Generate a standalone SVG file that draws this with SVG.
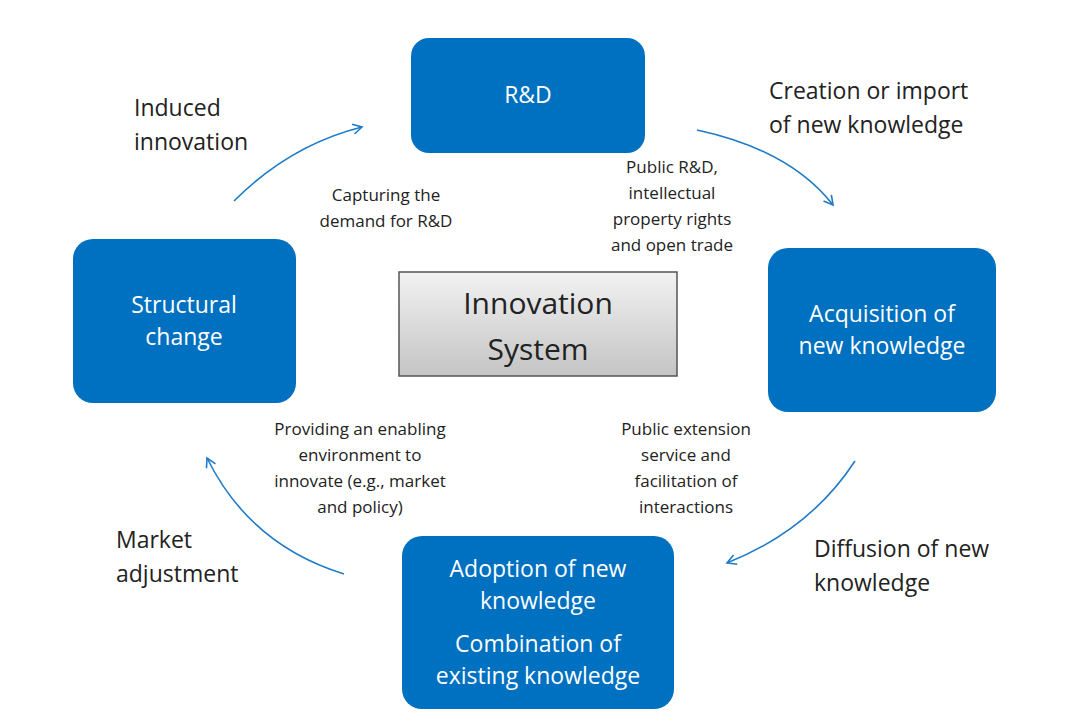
<svg xmlns="http://www.w3.org/2000/svg" width="1090" height="728" viewBox="0 0 1090 728">
<style>
.n{fill:#0070C0}
.nt{fill:#fff;font-family:"Open Sans","Liberation Sans",sans-serif;font-size:23px;text-anchor:middle}
.lb{fill:#222;font-family:"Open Sans","Liberation Sans",sans-serif;font-size:23px}
.sm{fill:#222;font-family:"Open Sans","Liberation Sans",sans-serif;font-size:17px;text-anchor:middle}
.c{fill:none;stroke:#1F7BC8;stroke-width:1.6;marker-end:url(#a)}
</style>
<defs>
<marker id="a" viewBox="0 0 12 12" refX="10" refY="6" markerWidth="12" markerHeight="12" markerUnits="userSpaceOnUse" orient="auto">
<path d="M1,1 L10,6 L1,11" fill="none" stroke="#1F7BC8" stroke-width="1.6"/>
</marker>
<linearGradient id="g" x1="0" y1="0" x2="0" y2="1">
<stop offset="0" stop-color="#f2f2f2"/><stop offset="1" stop-color="#c4c4c4"/>
</linearGradient>
</defs>
<rect width="1090" height="728" fill="#fff"/>
<g id="connectors">
<path class="c" d="M234,201 Q290,145 362,127"/>
<path class="c" d="M697,130 Q790,150 833,205"/>
<path class="c" d="M855,461 Q810,530 727,563"/>
<path class="c" d="M344,574 Q250,545 207,458"/>
</g>
<g id="rd"><rect class="n" x="411" y="38" width="234" height="115" rx="18"/><text class="nt" x="528" y="103">R&amp;D</text></g>
<g id="structural"><rect class="n" x="73" y="239" width="223" height="164" rx="20"/><text class="nt" x="184" y="313">Structural</text><text class="nt" x="184" y="345">change</text></g>
<g id="acquisition"><rect class="n" x="768" y="248" width="228" height="164" rx="20"/><text class="nt" x="882" y="322">Acquisition of</text><text class="nt" x="882" y="354">new knowledge</text></g>
<g id="adoption"><rect class="n" x="402" y="536" width="272" height="173" rx="20"/><text class="nt" x="538" y="577">Adoption of new</text><text class="nt" x="538" y="609">knowledge</text><text class="nt" x="538" y="652">Combination of</text><text class="nt" x="538" y="684">existing knowledge</text></g>
<g id="center"><rect x="399" y="272" width="278" height="104" fill="url(#g)" stroke="#555" stroke-width="1.5"/><text x="538" y="314" font-family="Open Sans,Liberation Sans,sans-serif" font-size="30" text-anchor="middle" fill="#222">Innovation</text><text x="538" y="360" font-family="Open Sans,Liberation Sans,sans-serif" font-size="30" text-anchor="middle" fill="#222">System</text></g>
<g id="labels">
<text class="lb" x="134" y="116">Induced</text><text class="lb" x="134" y="150">innovation</text>
<text class="lb" x="769" y="99">Creation or import</text><text class="lb" x="769" y="133">of new knowledge</text>
<text class="lb" x="814" y="557">Diffusion of new</text><text class="lb" x="814" y="591">knowledge</text>
<text class="lb" x="116" y="548">Market</text><text class="lb" x="116" y="582">adjustment</text>
<text class="sm" x="386" y="201">Capturing the</text><text class="sm" x="386" y="227">demand for R&amp;D</text>
<text class="sm" x="672" y="173">Public R&amp;D,</text><text class="sm" x="672" y="199">intellectual</text><text class="sm" x="672" y="225">property rights</text><text class="sm" x="672" y="251">and open trade</text>
<text class="sm" x="360" y="435">Providing an enabling</text><text class="sm" x="360" y="461">environment to</text><text class="sm" x="360" y="487">innovate (e.g., market</text><text class="sm" x="360" y="513">and policy)</text>
<text class="sm" x="686" y="435">Public extension</text><text class="sm" x="686" y="461">service and</text><text class="sm" x="686" y="487">facilitation of</text><text class="sm" x="686" y="513">interactions</text>
</g>
</svg>
